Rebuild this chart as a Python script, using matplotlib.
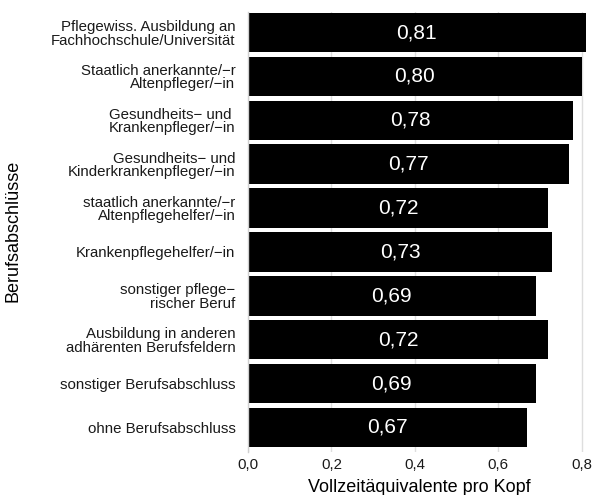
import matplotlib.pyplot as plt

plt.rcParams["font.family"] = ["Liberation Sans", "DejaVu Sans"]

# categories top to bottom
categories = [
    "Pflegewiss. Ausbildung an\nFachhochschule/Universität",
    "Staatlich anerkannte/\u2212r\nAltenpfleger/\u2212in",
    "Gesundheits\u2212 und \nKrankenpfleger/\u2212in",
    "Gesundheits\u2212 und\nKinderkrankenpfleger/\u2212in",
    "staatlich anerkannte/\u2212r\nAltenpflegehelfer/\u2212in",
    "Krankenpflegehelfer/\u2212in",
    "sonstiger pflege\u2212\nrischer Beruf",
    "Ausbildung in anderen\nadhärenten Berufsfeldern",
    "sonstiger Berufsabschluss",
    "ohne Berufsabschluss",
]
values = [0.81, 0.80, 0.78, 0.77, 0.72, 0.73, 0.69, 0.72, 0.69, 0.67]
value_labels = ["0,81", "0,80", "0,78", "0,77", "0,72", "0,73", "0,69", "0,72", "0,69", "0,67"]
x_ticks = [0.0, 0.2, 0.4, 0.6, 0.8]
x_ticklabels = ["0,0", "0,2", "0,4", "0,6", "0,8"]

fig = plt.figure(figsize=(5.95, 4.95), dpi=100)
ax = fig.add_axes([248 / 595, 43 / 495, 342 / 595, 440 / 495])

n = len(categories)
ypos = [n - i for i in range(n)]

ax.barh(ypos, values, height=0.9, color="black", zorder=2)
for y, v, lab in zip(ypos, values, value_labels):
    ax.text(v / 2, y, lab, color="white", fontsize=15, ha="center", va="center", zorder=3)

ax.set_xlim(0, 0.82)
ax.set_ylim(0.44, n + 0.47)
ax.set_xticks(x_ticks)
ax.set_xticklabels(x_ticklabels, fontsize=10.8, color="#1a1a1a")
ax.set_yticks(ypos)
ax.set_yticklabels(categories, fontsize=10.8, color="#1a1a1a", linespacing=0.95)
ax.tick_params(axis="y", length=0, pad=9)
ax.tick_params(axis="x", length=0, pad=4)

ax.grid(axis="x", color="#DEDEDE", linewidth=1.0, zorder=0)
ax.set_axisbelow(True)
for side in ["top", "right", "bottom"]:
    ax.spines[side].set_visible(False)
ax.spines["left"].set_color("#D0D0D0")
ax.spines["left"].set_linewidth(1.0)

ax.set_xlabel("Vollzeitäquivalente pro Kopf", fontsize=13, labelpad=5)
fig.text(13 / 595, 1 - 231 / 495, "Berufsabschlüsse", fontsize=13,
         rotation=90, ha="center", va="center")

fig.savefig("out.png", dpi=100)
